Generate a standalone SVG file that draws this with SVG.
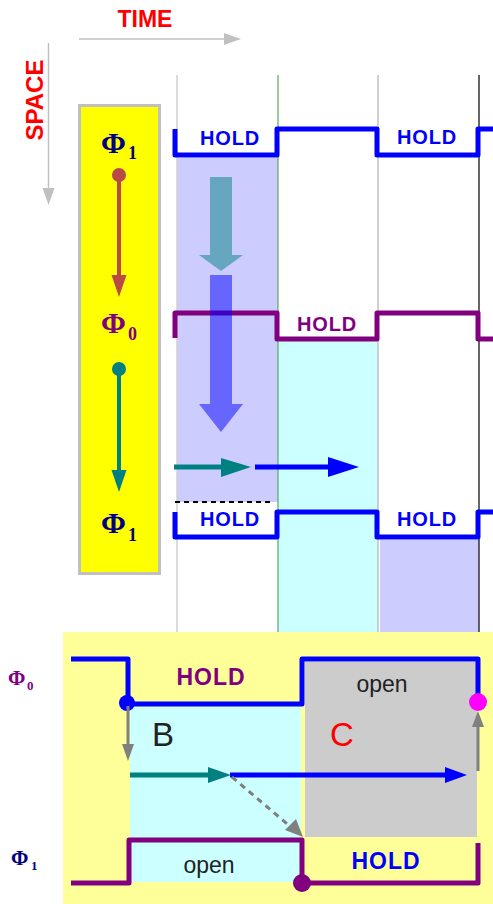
<svg xmlns="http://www.w3.org/2000/svg" width="493" height="904" viewBox="0 0 493 904">
<defs>
<style>
.lbl{font-family:"Liberation Sans",Arial,sans-serif;font-weight:bold;text-anchor:middle}
.phi{font-family:"Liberation Serif","Times New Roman",serif;font-weight:bold}
.wave{fill:none;stroke-width:5;stroke-linejoin:round;stroke-linecap:butt}
.axis{stroke:#c0c0c0;stroke-width:1.5;fill:none}
.norm{font-family:"Liberation Sans",Arial,sans-serif;text-anchor:middle}
</style>
<marker id="axhead" markerWidth="12" markerHeight="12" refX="12" refY="6" orient="auto" markerUnits="userSpaceOnUse"><path d="M0,0 L17,6 L0,12 Z" fill="#c0c0c0" transform="translate(-5,0)"/></marker>
</defs>
<rect width="493" height="904" fill="#ffffff"/>

<g id="axes">
<text class="lbl" x="145" y="27" font-size="23" fill="#ff0000">TIME</text>
<line class="axis" x1="79" y1="39" x2="226" y2="39"/>
<path d="M224,33 L241,39 L224,45 Z" fill="#c0c0c0"/>
<text class="lbl" font-size="24" fill="#ff0000" transform="translate(43,100) rotate(-90)">SPACE</text>
<line class="axis" x1="48.5" y1="43" x2="48.5" y2="190"/>
<path d="M42.5,188 L48.5,205 L54.5,188 Z" fill="#c0c0c0"/>
</g>

<g id="regions">
<rect x="177" y="158" width="101" height="344" fill="#ccccff"/>
<rect x="278" y="341" width="100" height="291" fill="#ccffff"/>
<rect x="380" y="540" width="99" height="92" fill="#ccccff"/>
</g>

<g id="timelines">
<line x1="177" y1="75" x2="177" y2="632" stroke="#d0d0d0" stroke-width="1.5"/>
<line x1="278" y1="75" x2="278" y2="632" stroke="#5aa85a" stroke-width="1.2"/>
<line x1="378" y1="75" x2="378" y2="632" stroke="#c0c0c0" stroke-width="1.5"/>
<line x1="479" y1="75" x2="479" y2="632" stroke="#000000" stroke-width="1.2"/>
</g>

<g id="space-box">
<rect x="79.5" y="105.5" width="80" height="468" fill="#ffff00" stroke="#c0c0c0" stroke-width="3"/>
<text class="phi" x="101" y="153" font-size="30" fill="#000080">Φ</text>
<text class="phi" x="128" y="159" font-size="18" fill="#000080">1</text>
<text class="phi" x="101" y="333" font-size="30" fill="#800080">Φ</text>
<text class="phi" x="128" y="340" font-size="18" fill="#800080">0</text>
<text class="phi" x="101" y="533" font-size="30" fill="#000080">Φ</text>
<text class="phi" x="128" y="541" font-size="18" fill="#000080">1</text>
<circle cx="119" cy="175" r="7" fill="#b94a48"/>
<line x1="119" y1="175" x2="119" y2="278" stroke="#b94a48" stroke-width="4"/>
<path d="M111.5,275 L119,297 L126.5,275 Z" fill="#b94a48"/>
<circle cx="119" cy="369" r="7" fill="#008080"/>
<line x1="119" y1="369" x2="119" y2="473" stroke="#008080" stroke-width="4"/>
<path d="M111.5,470 L119,492 L126.5,470 Z" fill="#008080"/>
</g>

<g id="phi1-top">
<path class="wave" stroke="#0000ff" d="M175,129 V155 H277 V129 H377 V155 H478 V129 H493"/>
<text class="lbl" x="230" y="145" font-size="20" fill="#0000ff" letter-spacing="0.8">HOLD</text>
<text class="lbl" x="427" y="144" font-size="20" fill="#0000ff" letter-spacing="0.8">HOLD</text>
</g>

<g id="phi0-mid">
<path class="wave" stroke="#800080" d="M175,338 V313 H277 V339 H377 V313 H478 V339 H493"/>
<text class="lbl" x="327" y="331" font-size="20" fill="#800080" letter-spacing="0.8">HOLD</text>
</g>

<g id="phi1-bottom">
<path class="wave" stroke="#0000ff" d="M175,512 V537 H277 V512 H377 V537 H478 V512 H493"/>
<text class="lbl" x="230" y="526" font-size="20" fill="#0000ff" letter-spacing="0.8">HOLD</text>
<text class="lbl" x="427" y="526" font-size="20" fill="#0000ff" letter-spacing="0.8">HOLD</text>
</g>

<g id="connectors">
<path d="M210,177 H232 V255 H243 L221,271 L199,255 H210 Z" fill="#008080" fill-opacity="0.5"/>
<path d="M210,275 H232 V404 H243 L221,432 L199,404 H210 Z" fill="#0000ff" fill-opacity="0.5"/>
<line x1="174" y1="467" x2="224" y2="467" stroke="#008080" stroke-width="5"/>
<path d="M221,458 L251,467 L221,477 Z" fill="#008080"/>
<line x1="255" y1="467" x2="330" y2="467" stroke="#0000ff" stroke-width="5"/>
<path d="M328,457 L359,467 L328,477 Z" fill="#0000ff"/>
<line x1="175" y1="502" x2="274" y2="502" stroke="#000000" stroke-width="2" stroke-dasharray="5,4"/>
</g>

<g id="detail-panel">
<rect x="63" y="632" width="430" height="272" fill="#ffff99"/>
<rect x="130" y="707" width="171" height="175" fill="#ccffff"/>
<rect x="305" y="662" width="172" height="175" fill="#cccccc"/>
<text class="phi" x="8" y="685" font-size="21" fill="#800080">Φ</text>
<text class="phi" x="27" y="690" font-size="13" fill="#800080">0</text>
<text class="phi" x="11" y="865" font-size="21" fill="#000080">Φ</text>
<text class="phi" x="31" y="870" font-size="13" fill="#000080">1</text>
<path class="wave" stroke="#0000ff" d="M71,659 H128 V704 H302 V659 H478 V702"/>
<path class="wave" stroke="#800080" d="M71,883 H129 V840 H302 V883 H478 V843"/>
<circle cx="127" cy="703" r="8" fill="#0000ff"/>
<circle cx="478" cy="702" r="9" fill="#ff00ff"/>
<circle cx="302" cy="883" r="9" fill="#800080"/>
<text class="lbl" x="211" y="685" font-size="23" fill="#800080" letter-spacing="1">HOLD</text>
<text class="lbl" x="386" y="869" font-size="23" fill="#0000ff" letter-spacing="1">HOLD</text>
<text class="norm" x="382" y="692" font-size="23" fill="#222222">open</text>
<text class="norm" x="209" y="873" font-size="23" fill="#222222">open</text>
<text x="152" y="746" font-family="'Liberation Sans',Arial,sans-serif" font-size="33" fill="#222222">B</text>
<text x="330" y="746" font-family="'Liberation Sans',Arial,sans-serif" font-size="33" fill="#ff0000">C</text>
</g>

<g id="detail-connectors">
<line x1="128" y1="706" x2="128" y2="747" stroke="#808080" stroke-width="3"/>
<path d="M122,744 L128,761 L134,744 Z" fill="#808080"/>
<line x1="130" y1="775" x2="212" y2="775" stroke="#008080" stroke-width="5"/>
<path d="M208,767 L231,775 L208,783 Z" fill="#008080"/>
<line x1="230" y1="775" x2="448" y2="775" stroke="#0000ff" stroke-width="5"/>
<path d="M445,767 L467,775 L445,783 Z" fill="#0000ff"/>
<line x1="232" y1="777" x2="292" y2="828" stroke="#808080" stroke-width="3" stroke-dasharray="6,5"/>
<path d="M285,830 L303,837 L296,819 Z" fill="#808080"/>
<line x1="478" y1="771" x2="478" y2="724" stroke="#808080" stroke-width="3"/>
<path d="M472,727 L478,711 L484,727 Z" fill="#808080"/>
</g>
</svg>
